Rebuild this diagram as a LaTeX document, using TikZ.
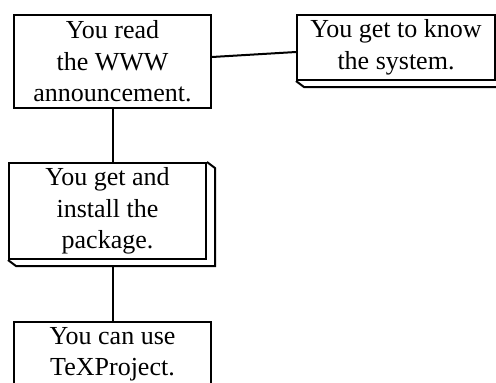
\documentclass[tikz,border=0pt]{standalone}
\usepackage{fontspec}
\setmainfont{Liberation Serif}
\usetikzlibrary{calc}
\pgfdeclarelayer{background}
\pgfsetlayers{background,main}
\begin{document}
\begin{tikzpicture}[x=1pt,y=-1pt,
  box/.style={draw,line width=2pt,fill=white,align=center,inner sep=0pt,
    font=\fontsize{26}{31.5}\selectfont},
  conn/.style={line width=2pt},
  shadowline/.style={line width=2pt,fill=white,line join=miter}]
\useasboundingbox (0,0) rectangle (496,383);
\node[box,minimum width=197pt,minimum height=93pt] (b1) at (112.5,61.5) {You read\\the WWW\\announcement.};
\node[box,minimum width=198pt,minimum height=65pt] (b2) at (396,47.5) {You get to know\\the system.};
\node[box,minimum width=197pt,minimum height=96pt] (b3) at (107.5,211) {You get and\\install the\\package.};
\node[box,minimum width=197pt,minimum height=65pt] (b4) at (112.5,354.5) {You can use\\TeXProject.};
\begin{pgfonlayer}{background}
% connectors
\draw[conn] ($(b1.east)+(0,-4.5)$) -- ($(b2.west)+(0,4.5)$);
\draw[conn] (b1.south) -- (b1.south |- b3.north);
\draw[conn] ($(b3.south -| b4.north)+(0,6)$) -- (b4.north);
% shadows
\foreach \n in {b2,b3}{
  \draw[shadowline]
    (\n.north east) -- ++(8,6) -- ($(\n.south east)+(8,6)$) -- ($(\n.south west)+(8,6)$) -- (\n.south west);
}
\end{pgfonlayer}
\end{tikzpicture}
\end{document}
